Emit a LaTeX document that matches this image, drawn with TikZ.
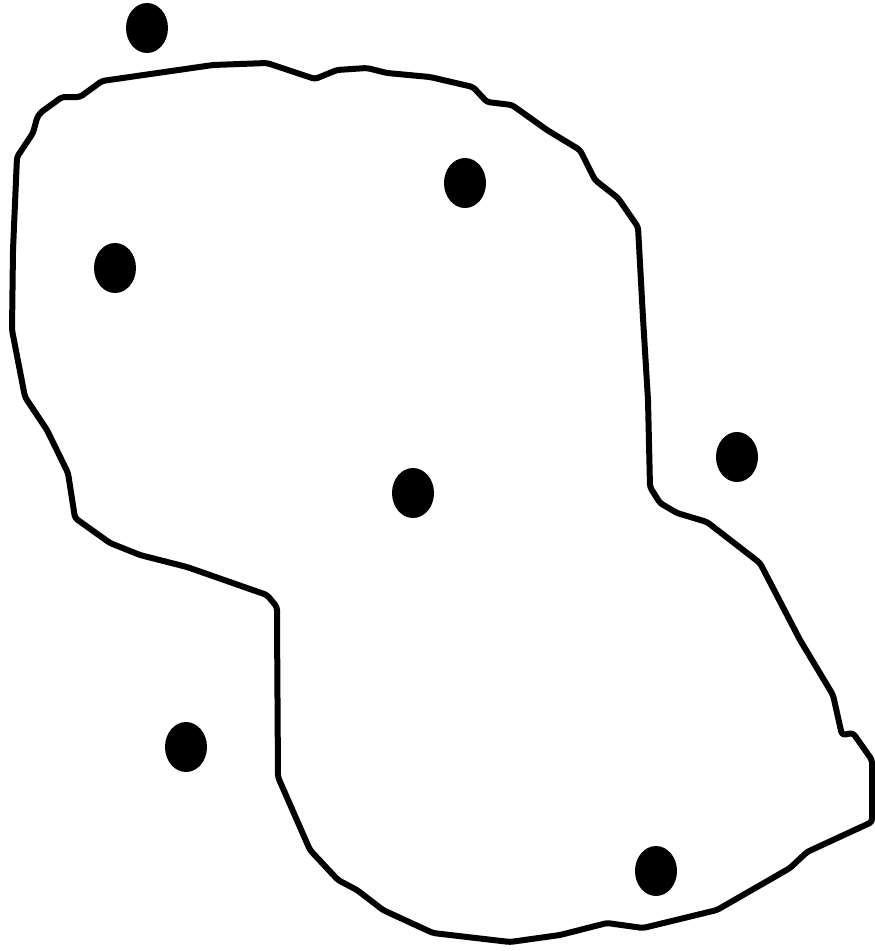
\documentclass[tikz,border=0pt]{standalone}
\usetikzlibrary{shapes.geometric}
\begin{document}
\begin{tikzpicture}[x=1pt,y=-1pt,
  outline/.style={line width=6pt,line join=round,line cap=round,rounded corners=3pt},
  dot/.style={ellipse,fill=black,inner sep=0pt,minimum width=42pt,minimum height=50pt}]
\useasboundingbox (0,0) rectangle (875,951);
\draw[outline] (17,157) -- (33,133) -- (37,118) -- (40,113) -- (62,97) -- (80,97) -- (102,81)
  -- (213,65) -- (267,63) -- (315,79) -- (337,70) -- (367,68) -- (387,73) -- (430,77)
  -- (473,87) -- (487,102) -- (512,105) -- (547,130) -- (580,150) -- (595,180) -- (618,198)
  -- (638,227) -- (643,318) -- (648,400) -- (650,487) -- (660,503) -- (677,513) -- (707,522)
  -- (760,563) -- (800,640) -- (833,695) -- (842,735) -- (853,733) -- (872,760) -- (872,822)
  -- (807,852) -- (790,868) -- (717,910) -- (643,928) -- (607,923) -- (560,935) -- (510,942)
  -- (433,933) -- (383,910) -- (357,890) -- (338,880) -- (310,850) -- (278,777) -- (277,620)
  -- (277,607) -- (267,595) -- (187,567) -- (140,555) -- (110,543) -- (75,518) -- (68,473)
  -- (47,430) -- (25,397) -- (12,330) -- (13,250) -- cycle;
\node[dot] (d1) at (147,28) {};
\node[dot] (d2) at (465,183) {};
\node[dot] (d3) at (115,268) {};
\node[dot] (d4) at (413,493) {};
\node[dot] (d5) at (737,457) {};
\node[dot] (d6) at (186,747) {};
\node[dot] (d7) at (656,871) {};
\end{tikzpicture}
\end{document}
